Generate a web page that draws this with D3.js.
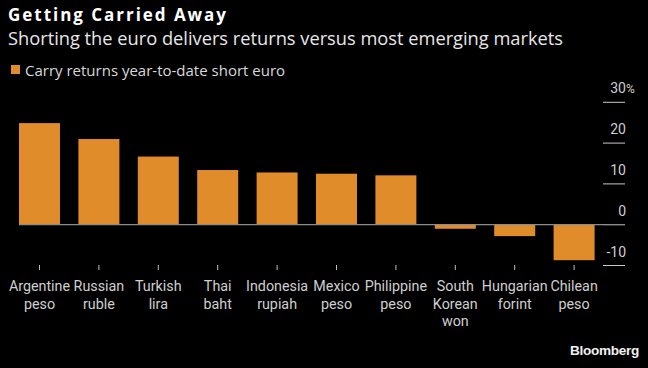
<!DOCTYPE html>
<html>
<head>
<meta charset="utf-8">
<script src="https://cdn.jsdelivr.net/npm/d3@7"></script>
<style>
  html, body { margin: 0; padding: 0; background: #000; }
  svg { display: block; }
</style>
</head>
<body>
<svg id="chart" width="648" height="368"></svg>
<script>
// ---- data ----
const categories = ["Argentine peso", "Russian ruble", "Turkish lira", "Thai baht", "Indonesia rupiah",
                    "Mexico peso", "Philippine peso", "South Korean won", "Hungarian forint", "Chilean peso"];
const values = [24.9, 21.0, 16.7, 13.4, 12.8, 12.5, 12.1, -1.0, -2.8, -8.7];
const yTicks = [30, 20, 10, 0, -10];
const title = "Getting Carried Away";
const subtitle = "Shorting the euro delivers returns versus most emerging markets";
const seriesName = "Carry returns year-to-date short euro";
const source = "Bloomberg";

// ---- layout ----
const W = 648, H = 368;
const svg = d3.select("#chart");
svg.append("rect").attr("width", W).attr("height", H).attr("fill", "#000");

const barColor = "#E08C2B";
const x = d3.scaleBand().domain(categories).range([19, 594.6]).paddingInner(0.31).paddingOuter(0);
const y = d3.scaleLinear().domain([-10, 30]).range([265.5, 102.3]);

function fit(sel, target) {
  const node = sel.node();
  let fs = parseFloat(sel.attr("font-size"));
  const len = node.getComputedTextLength();
  if (len > 0) sel.attr("font-size", (fs * target / len).toFixed(2));
}
function fitSpacing(sel, target) {
  const node = sel.node();
  const n = sel.text().length;
  const len = node.getComputedTextLength();
  if (len > 0 && n > 1) sel.attr("letter-spacing", ((target - len) / n).toFixed(3));
}

// title
const t1 = svg.append("text").attr("x", 8).attr("y", 20.5)
  .attr("font-family", "'Open Sans', sans-serif").attr("font-weight", 700)
  .attr("font-size", 17).attr("fill", "#ffffff").text(title);
fitSpacing(t1, 220);
const t2 = svg.append("text").attr("x", 8).attr("y", 44.5)
  .attr("font-family", "'Open Sans', sans-serif")
  .attr("font-size", 17).attr("fill", "#e8e8e8").text(subtitle);
fit(t2, 555);

// legend
svg.append("rect").attr("x", 11).attr("y", 65).attr("width", 9).attr("height", 9).attr("fill", barColor);
const lg = svg.append("text").attr("x", 25).attr("y", 75.5)
  .attr("font-family", "'Open Sans', sans-serif")
  .attr("font-size", 14).attr("fill", "#d8d8d8").text(seriesName);
fit(lg, 260);

// y axis: short right-side tick lines with labels above
const yg = svg.append("g");
yg.selectAll("line.yt").data(yTicks).join("line")
  .attr("class", "yt")
  .attr("x1", 603).attr("x2", 625)
  .attr("y1", d => y(d)).attr("y2", d => y(d))
  .attr("stroke", d => d === 0 ? "#8c8c8c" : "#c8c8c8").attr("stroke-width", 1);
yg.selectAll("text.yl").data(yTicks).join("text")
  .attr("class", "yl")
  .attr("x", 626).attr("y", d => y(d) - 9)
  .attr("text-anchor", "end")
  .attr("font-family", "Roboto, sans-serif").attr("font-size", 14)
  .attr("fill", "#cfcfcf")
  .text(d => d < 0 ? "-" + Math.abs(d) : d);
yg.append("text")
  .attr("x", 626).attr("y", y(yTicks[0]) - 9)
  .attr("font-family", "Roboto, sans-serif").attr("font-size", 12)
  .attr("fill", "#cfcfcf").text("%");

// bars
svg.append("g").selectAll("rect").data(values).join("rect")
  .attr("x", (d, i) => x(categories[i]))
  .attr("width", x.bandwidth())
  .attr("y", d => y(Math.max(0, d)))
  .attr("height", d => Math.abs(y(d) - y(0)))
  .attr("fill", barColor);

// zero line
svg.append("line")
  .attr("x1", 19).attr("x2", 625)
  .attr("y1", y(0)).attr("y2", y(0))
  .attr("stroke", "#8c8c8c").attr("stroke-width", 1.2);

// x ticks and labels
const xg = svg.append("g");
xg.selectAll("line").data(categories).join("line")
  .attr("x1", d => x(d) + x.bandwidth() / 2).attr("x2", d => x(d) + x.bandwidth() / 2)
  .attr("y1", 265).attr("y2", 270)
  .attr("stroke", "#bdbdbd").attr("stroke-width", 1);
const lbl = xg.selectAll("text").data(categories).join("text")
  .attr("text-anchor", "middle")
  .attr("font-family", "Roboto, sans-serif").attr("font-size", 14.3)
  .attr("fill", "#cfcfcf");
lbl.each(function(d) {
  const words = d.split(" ");
  const cx = x(d) + x.bandwidth() / 2;
  d3.select(this).selectAll("tspan").data(words).join("tspan")
    .attr("x", cx).attr("y", (w, i) => 290.7 + i * 17.8)
    .text(w => w);
});

// source
svg.append("text").attr("x", 639).attr("y", 355)
  .attr("text-anchor", "end")
  .attr("font-family", "'Liberation Sans', Arial, sans-serif").attr("font-weight", 700)
  .attr("font-size", 13.6).attr("fill", "#f0f0f0").attr("letter-spacing", -0.3).text(source);
</script>
</body>
</html>
